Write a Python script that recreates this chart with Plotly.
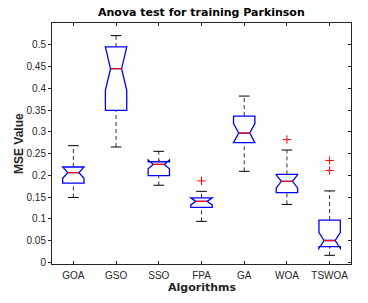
import plotly.graph_objects as go

# ---- data ----
algorithms = ["GOA", "GSO", "SSO", "FPA", "GA", "WOA", "TSWOA"]
q1_vals = [0.182, 0.349, 0.199, 0.126, 0.275, 0.160, 0.036]
median_vals = [0.206, 0.445, 0.225, 0.140, 0.297, 0.186, 0.050]
q3_vals = [0.219, 0.495, 0.231, 0.148, 0.336, 0.202, 0.097]
lower_whisker = [0.149, 0.265, 0.177, 0.094, 0.209, 0.133, 0.016]
upper_whisker = [0.268, 0.521, 0.255, 0.163, 0.382, 0.258, 0.164]
notch_span = [0.013, 0.050, 0.010, 0.008, 0.022, 0.015, 0.018]
outlier_algorithm = ["FPA", "WOA", "TSWOA", "TSWOA"]
outlier_values = [0.187, 0.282, 0.234, 0.211]

y_tick_vals = [0, 0.05, 0.1, 0.15, 0.2, 0.25, 0.3, 0.35, 0.4, 0.45, 0.5]
y_tick_text = ["0", "0.05", "0.1", "0.15", "0.2", "0.25", "0.3", "0.35", "0.4", "0.45", "0.5"]

# ---- styling ----
BOX_W = 0.5
NOTCH_W = 0.24          # plotly: waist half-width = box half-width * (1 - 2*notchwidth)
CAP_HALF = 0.125
AX = "#262626"
TICK_FONT = dict(family="Liberation Sans, Arial, sans-serif", size=10, color=AX)

pos = list(range(1, len(algorithms) + 1))
idx = {a: i + 1 for i, a in enumerate(algorithms)}

fig = go.Figure()

# notched boxes (blue), whiskers drawn separately
fig.add_trace(go.Box(
    x=pos, q1=q1_vals, median=median_vals, q3=q3_vals,
    lowerfence=q1_vals, upperfence=q3_vals,
    notchspan=notch_span, notched=True, notchwidth=NOTCH_W,
    width=BOX_W, whiskerwidth=0,
    line=dict(color="#0000ff", width=1.3),
    fillcolor="rgba(0,0,0,0)", boxpoints=False,
    showlegend=False, hoverinfo="skip",
))

# dashed whiskers
wx, wy = [], []
for p, lo, a, b, hi in zip(pos, lower_whisker, q1_vals, q3_vals, upper_whisker):
    wx += [p, p, None, p, p, None]
    wy += [b, hi, None, lo, a, None]
fig.add_trace(go.Scatter(x=wx, y=wy, mode="lines",
                         line=dict(color="#333333", width=1, dash="4px,3px"),
                         showlegend=False, hoverinfo="skip"))

# whisker caps
cx, cy = [], []
for p, lo, hi in zip(pos, lower_whisker, upper_whisker):
    cx += [p - CAP_HALF, p + CAP_HALF, None, p - CAP_HALF, p + CAP_HALF, None]
    cy += [hi, hi, None, lo, lo, None]
fig.add_trace(go.Scatter(x=cx, y=cy, mode="lines",
                         line=dict(color="#000000", width=1),
                         showlegend=False, hoverinfo="skip"))

# red medians (span the notch waist)
half_m = BOX_W / 2 * (1 - 2 * NOTCH_W)
mx, my = [], []
for p, m in zip(pos, median_vals):
    mx += [p - half_m, p + half_m, None]
    my += [m, m, None]
fig.add_trace(go.Scatter(x=mx, y=my, mode="lines",
                         line=dict(color="#ff0000", width=1.2),
                         showlegend=False, hoverinfo="skip"))

# outliers
fig.add_trace(go.Scatter(x=[idx[a] for a in outlier_algorithm], y=outlier_values,
                         mode="markers",
                         marker=dict(symbol="cross-thin-open", size=6, color="#ff0000",
                                     line=dict(color="#ff0000", width=1)),
                         showlegend=False, hoverinfo="skip"))

y_range = [-0.004, 0.55]

fig.update_layout(
    width=368, height=303,
    margin=dict(l=52, r=17, t=23, b=39),
    paper_bgcolor="white", plot_bgcolor="white",
    showlegend=False,
    xaxis=dict(range=[0.5, 7.5], tickvals=pos, ticktext=algorithms,
               ticks="inside", ticklen=3, tickcolor=AX, tickwidth=1,
               showline=True, linecolor=AX, linewidth=1, mirror="ticks",
               showgrid=False, zeroline=False, tickfont=TICK_FONT,
               ticklabelstandoff=2),
    yaxis=dict(range=y_range, tickvals=y_tick_vals, ticktext=y_tick_text,
               ticks="outside", ticklen=3, tickcolor=AX, tickwidth=1,
               showline=True, linecolor=AX, linewidth=1, mirror=True,
               showgrid=False, zeroline=False, tickfont=TICK_FONT),
    yaxis2=dict(range=y_range, overlaying="y", side="right",
                tickvals=y_tick_vals, ticks="inside", ticklen=3, tickcolor=AX,
                showticklabels=False, showline=False, showgrid=False, zeroline=False),
    annotations=[
        dict(text="<b>Anova test for training Parkinson</b>", xref="paper", yref="paper",
             x=0.5, y=1.0, yanchor="bottom", yshift=2, showarrow=False,
             font=dict(family="DejaVu Sans, sans-serif", size=11, color="#000000")),
        dict(text="<b>Algorithms</b>", xref="paper", yref="paper",
             x=0.5, y=-0.097, yanchor="middle", showarrow=False,
             font=dict(family="DejaVu Sans, sans-serif", size=11, color=AX)),
        dict(text="<b>MSE Value</b>", xref="paper", yref="paper",
             x=-0.112, y=0.5, xanchor="center", yanchor="middle", textangle=-90,
             showarrow=False,
             font=dict(family="Liberation Sans Narrow, Liberation Sans, sans-serif", size=12, color=AX)),
    ],
)

# invisible trace so the right-hand tick axis renders
fig.add_trace(go.Scatter(x=[None], y=[None], yaxis="y2", showlegend=False, hoverinfo="skip"))

fig.write_html("out.html", config={"displayModeBar": False},
               post_script="document.body.style.margin='0';")
